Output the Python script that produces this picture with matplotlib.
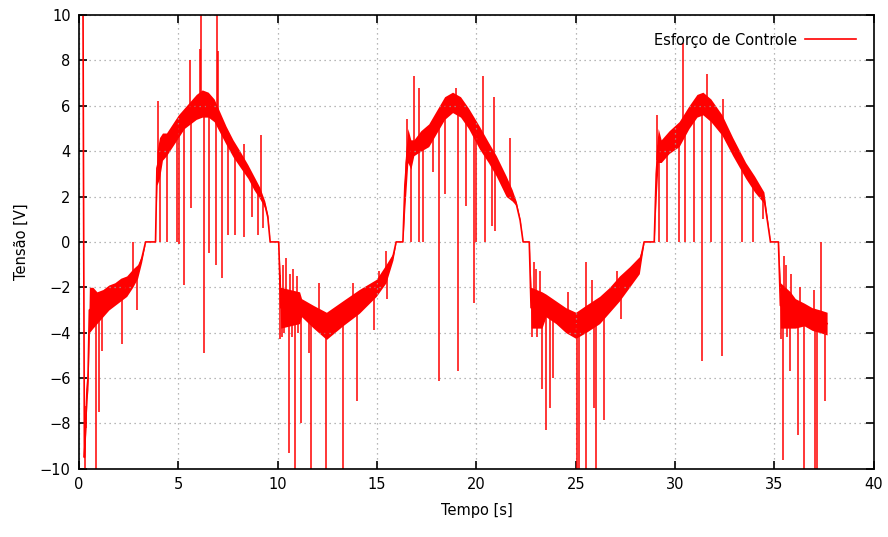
import matplotlib as mpl
mpl.use('Agg')
import matplotlib.pyplot as plt
import numpy as np

# envelope of the noisy control signal (time, upper, lower)
band_t = [0.20, 0.22, 0.27, 0.33, 0.40, 0.45, 0.52, 0.70, 0.90, 1.20, 1.50, 1.80, 2.10, 2.40, 2.70, 2.95, 3.15,
          3.35, 3.85, 3.92, 4.05, 4.20, 4.40, 4.70, 5.00, 5.30, 5.60, 5.90, 6.20, 6.50, 6.80, 7.10, 7.40, 7.75,
          8.10, 8.50, 8.80, 9.10, 9.35, 9.50, 9.62,
          10.05, 10.15, 11.10, 11.20, 11.80, 12.45, 13.27, 14.10, 14.96, 15.45, 15.80, 15.96,
          16.30, 16.40, 16.55, 16.70, 16.85, 17.20, 17.60, 18.00, 18.40, 18.80, 19.20, 19.60, 20.15, 20.60,
          21.00, 21.50, 21.80, 22.00, 22.20, 22.35,
          22.66, 22.75, 23.30, 23.50, 24.00, 24.50, 25.00, 25.50, 26.20, 26.70, 27.20, 27.70, 28.20, 28.44,
          28.95, 29.05, 29.15, 29.30, 29.70, 30.20, 30.70, 31.10, 31.40, 31.80, 32.36, 32.90, 33.55, 34.00,
          34.47, 34.65, 34.80,
          35.20, 35.30, 35.80, 36.05, 36.50, 36.90, 37.30, 37.65]
band_hi = [10.5, 4.3, -9.5, -8.0, -6.0, -5.5, -2.0, -2.0, -2.2, -2.1, -1.9, -1.8, -1.6, -1.5, -1.2, -1.0, -0.6,
           0.0, 0.0, 4.0, 4.6, 4.8, 4.8, 5.2, 5.6, 5.9, 6.2, 6.5, 6.7, 6.6, 6.3, 5.7, 5.1, 4.5,
           4.0, 3.4, 2.9, 2.4, 1.8, 1.2, 0.0,
           0.0, -2.0, -2.2, -2.5, -2.8, -3.1, -2.6, -2.1, -1.65, -1.0, -0.5, 0.0,
           0.0, 3.5, 5.0, 4.5, 4.5, 4.9, 5.2, 5.8, 6.4, 6.6, 6.4, 5.9, 5.1, 4.4,
           3.8, 2.9, 2.3, 1.8, 1.0, 0.0,
           0.0, -2.0, -2.2, -2.3, -2.6, -2.9, -3.1, -2.8, -2.4, -2.0, -1.5, -1.1, -0.65, 0.0,
           0.0, 4.0, 5.0, 4.5, 4.9, 5.3, 6.0, 6.5, 6.6, 6.3, 5.6, 4.6, 3.5, 2.9,
           2.2, 1.0, 0.0,
           0.0, -1.8, -2.2, -2.5, -2.7, -2.9, -3.0, -3.1]
band_lo = [10.5, 4.3, -9.5, -8.5, -7.0, -6.5, -4.0, -3.8, -3.6, -3.3, -3.0, -2.8, -2.6, -2.4, -2.0, -1.6, -0.9,
           0.0, 0.0, 2.5, 2.8, 3.6, 3.8, 4.2, 4.6, 5.0, 5.2, 5.4, 5.5, 5.5, 5.3, 4.8, 4.3, 3.75,
           3.3, 2.8, 2.3, 1.9, 1.5, 1.0, 0.0,
           0.0, -3.8, -3.6, -3.3, -3.8, -4.3, -3.7, -3.15, -2.4, -1.8, -0.8, 0.0,
           0.0, 1.5, 3.5, 3.2, 3.8, 4.0, 4.2, 4.8, 5.4, 5.7, 5.5, 5.0, 4.1, 3.5,
           2.9, 2.0, 1.8, 1.6, 0.9, 0.0,
           0.0, -3.8, -3.8, -3.3, -3.6, -4.0, -4.25, -4.0, -3.6, -3.1, -2.6, -2.0, -1.4, 0.0,
           0.0, 2.0, 3.5, 3.5, 3.9, 4.2, 5.0, 5.5, 5.6, 5.3, 4.7, 3.8, 2.8, 2.2,
           1.7, 0.8, 0.0,
           0.0, -3.8, -3.8, -3.8, -3.7, -3.9, -4.0, -4.1]

# isolated spikes (time, tip value)
spike_t = [0.30, 0.37, 0.85, 1.03, 1.15, 2.15, 2.72, 2.90,
           3.95, 5.60, 6.10, 6.15, 6.95, 7.00, 8.30, 9.15,
           4.05, 4.45, 4.95, 5.05, 5.30, 5.66, 6.30, 6.55, 6.90, 7.20, 7.50, 7.85, 8.30, 8.70, 9.00, 9.25,
           10.10, 10.20, 10.25, 10.30, 10.40, 10.55, 10.62, 10.70, 10.75, 10.85, 10.95, 11.00, 11.15, 11.57,
           11.65, 12.07, 12.45, 13.30, 13.80, 14.00, 14.85, 15.10, 15.43, 15.50,
           16.50, 16.85, 17.10, 18.95, 20.35, 20.90, 21.70,
           16.70, 17.10, 17.30, 17.80, 18.14, 18.40, 19.06, 19.50, 19.90, 20.00, 20.45, 20.80, 20.95,
           22.78, 22.90, 23.00, 23.06, 23.20, 23.30, 23.50, 23.68, 23.87, 24.60, 25.06, 25.15, 25.50, 25.52,
           25.80, 25.90, 26.00, 26.40, 27.10, 27.30, 28.10,
           29.10, 30.40, 31.60, 32.40,
           29.20, 29.60, 30.20, 30.50, 30.96, 31.37, 31.80, 32.38, 33.35, 33.90, 34.40,
           35.35, 35.43, 35.50, 35.60, 35.65, 35.80, 35.85, 36.20, 36.30, 36.50, 37.00, 37.06, 37.15, 37.35,
           37.53]
spike_v = [-10.5, -8.2, -10.5, -7.5, -4.8, -4.5, 0.0, -3.0,
           6.2, 8.0, 8.5, 10.5, 10.5, 8.4, 4.3, 4.7,
           0.0, 0.0, 0.0, -0.1, -1.9, 1.5, -4.9, -0.5, -1.0, -1.6, 0.3, 0.3, 0.2, 1.1, 0.3, 0.6,
           -4.3, -4.2, -1.0, -4.0, -0.7, -9.3, -1.4, -4.2, -1.2, -10.5, -1.5, -4.0, -8.0, -4.9,
           -10.5, -1.8, -10.5, -10.5, -1.8, -7.0, -3.9, -1.3, -0.4, -2.5,
           5.4, 7.3, 6.8, 6.8, 7.3, 6.4, 4.6,
           0.0, 0.0, 0.0, 3.1, -6.15, 2.1, -5.67, 1.6, -2.7, 0.0, 0.0, 0.7, 0.5,
           -4.2, -0.9, -1.2, -4.2, -1.3, -6.5, -8.3, -7.3, -6.0, -2.2, -10.5, -10.5, -10.5, -0.9,
           -1.7, -7.3, -10.5, -7.85, -1.3, -3.4, -1.0,
           5.6, 8.75, 7.4, 6.3,
           0.0, 0.0, 0.0, 0.0, 0.0, -5.27, 0.0, -5.05, 0.0, 0.0, 1.0,
           -4.3, -9.6, -0.6, -1.0, -4.2, -5.7, -1.4, -8.5, -2.0, -10.5, -2.1, -10.5, -10.5, 0.0,
           -7.0]

band_t = np.array(band_t)
band_mid = (np.array(band_hi) + np.array(band_lo)) / 2

plt.rcParams['font.family'] = ['DejaVu Sans']
fig, ax = plt.subplots(figsize=(8.88, 5.37), dpi=100)
fig.subplots_adjust(left=0.089, right=0.984, bottom=0.127, top=0.972)

red = '#ff0000'
ax.fill_between(band_t, band_lo, band_hi, color=red, lw=0)
line, = ax.plot(band_t, band_mid, color=red, lw=1.2, label='Esforço de Controle')
base = np.interp(spike_t, band_t, band_mid)
ax.vlines(spike_t, base, spike_v, color=red, lw=1.1)

ax.set_xlim(0, 40)
ax.set_ylim(-10, 10)
ax.set_xticks(np.arange(0, 41, 5))
ax.set_yticks(np.arange(-10, 11, 2))
ax.grid(True, color='#a0a0a0', linestyle=(0, (1, 3)), lw=0.9)
ax.tick_params(direction='in', top=True, right=True, length=6, width=1.2, labelsize=10.5, pad=6)
for s in ax.spines.values():
    s.set_linewidth(1.2)
ax.set_xlabel('Tempo [s]', fontsize=10.5, labelpad=8)
ax.set_ylabel('Tensão [V]', fontsize=10.5, labelpad=8)
ax.legend(handles=[line], loc='upper right', frameon=False, markerfirst=False, fontsize=10.5,
          handlelength=3.5, handletextpad=0.6, borderaxespad=0.8)

plt.savefig('out.png')
